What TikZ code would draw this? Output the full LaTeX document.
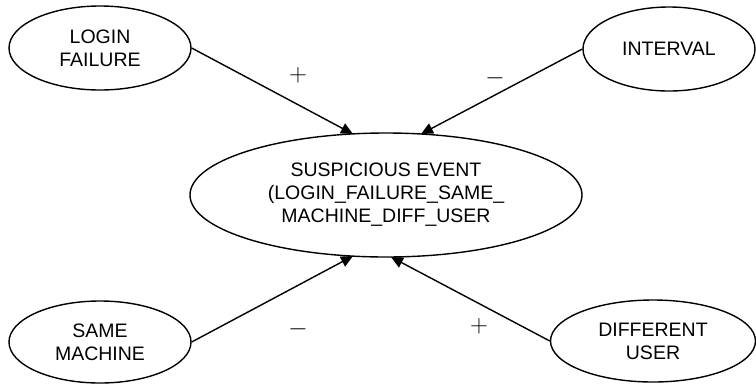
\documentclass[tikz,border=0pt]{standalone}
\usepackage{fontspec}
\setmainfont{Liberation Sans}
\usetikzlibrary{shapes.geometric,arrows.meta}
\begin{document}
\begin{tikzpicture}[x=1pt,y=-1pt,
  ell/.style={draw,ellipse,line width=1.4pt,inner sep=0pt,align=center,
    font=\fontsize{19.5}{23}\selectfont},
  arr/.style={line width=1.4pt,-{Triangle[length=12pt,width=11pt]}},
  sign/.style={font=\fontsize{30}{30}\selectfont,inner sep=0pt}]
\useasboundingbox (0,0) rectangle (756,384);
\node[ell,minimum width=182,minimum height=84] (lf) at (100,48) {LOGIN\\FAILURE};
\node[ell,minimum width=172,minimum height=84] (iv) at (669,49) {INTERVAL};
\node[ell,minimum width=392,minimum height=124] (se) at (386,195) {SUSPICIOUS EVENT\\(LOGIN\_FAILURE\_SAME\_\\MACHINE\_DIFF\_USER};
\node[ell,minimum width=182,minimum height=82] (sm) at (100,342) {SAME\\MACHINE};
\node[ell,minimum width=205,minimum height=82] (du) at (653,341) {DIFFERENT\\USER};
\coordinate (t1) at (353,134);
\coordinate (t2) at (421,134);
\coordinate (b1) at (353,256);
\coordinate (b2) at (391,257);
\draw[arr] (lf.east) -- (t1);
\draw[arr] (iv.west) -- (t2);
\draw[arr] (sm.east) -- (b1);
\draw[arr] (du.west) -- (b2);
\node[sign] (p1) at (298,75) {$+$};
\node[sign] (m1) at (495,78) {$-$};
\node[sign] (m2) at (298,329) {$-$};
\node[sign] (p2) at (479,326) {$+$};
\end{tikzpicture}
\end{document}
